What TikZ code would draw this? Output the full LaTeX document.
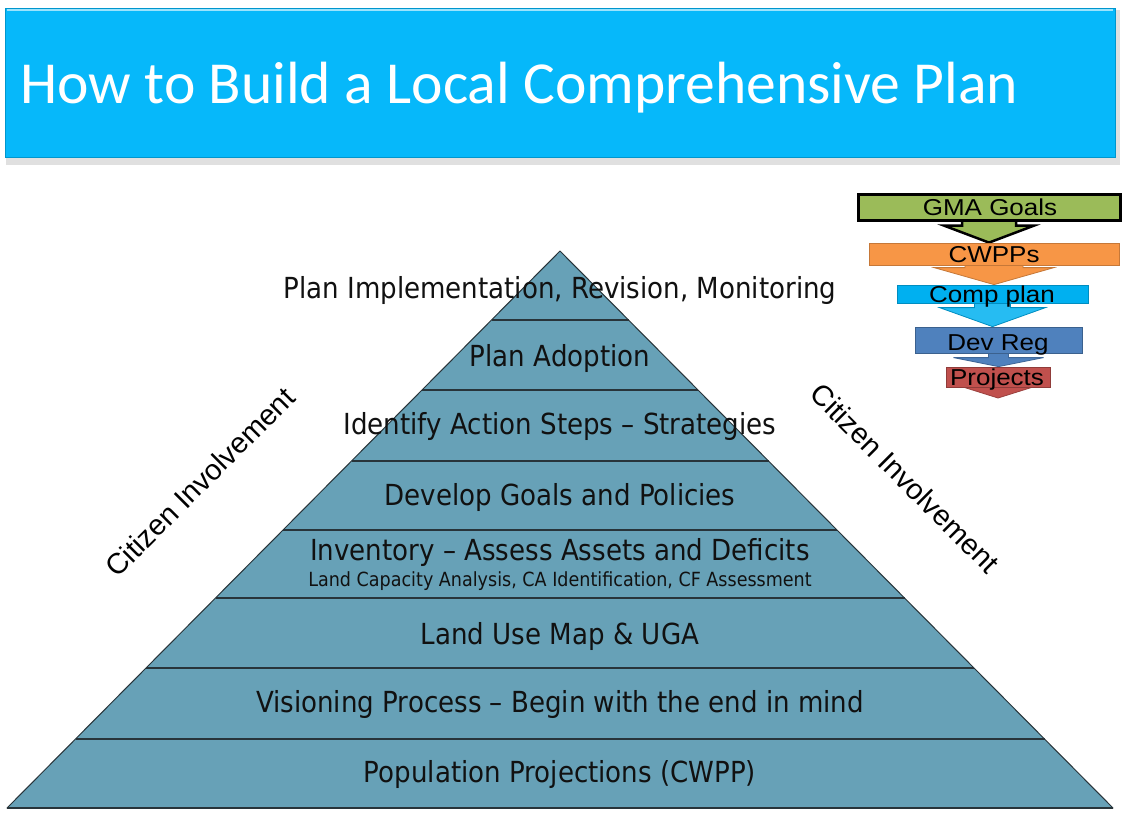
\documentclass[tikz,border=0pt]{standalone}
\usepackage{fontspec}
\setmainfont{Liberation Sans}
\newfontfamily\tahoma[FakeStretch=0.9]{DejaVu Sans}
\newfontfamily\calibri{Carlito}
\newfontfamily\arialf{Liberation Sans}
\usetikzlibrary{calc}
\definecolor{banner}{RGB}{6,184,250}
\definecolor{bannerdk}{RGB}{0,150,205}
\definecolor{pyr}{RGB}{103,161,183}
\definecolor{pyrline}{RGB}{40,52,58}
\definecolor{gmagreen}{RGB}{155,187,89}
\definecolor{cworange}{RGB}{247,150,70}
\definecolor{compblue}{RGB}{0,176,240}
\definecolor{devblue}{RGB}{79,129,189}
\definecolor{projred}{RGB}{192,80,77}
\definecolor{txt}{RGB}{17,17,17}
\newcommand{\flowarrow}[8]{%
  \filldraw[fill=#6, draw=#7, line width=#8, line join=miter]
    ($(#1.south)+(-#3,0)$) -- ($(#1.south |- #2)+(-#3,-#5)$) -- ($(#1.south |- #2)+(-#4,-#5)$)
    -- (#1.south |- #2) -- ($(#1.south |- #2)+(#4,-#5)$) -- ($(#1.south |- #2)+(#3,-#5)$)
    -- ($(#1.south)+(#3,0)$) -- cycle;}
\begin{document}
\begin{tikzpicture}[x=1pt,y=-1pt,
  pyrtext/.style={font=\tahoma\fontsize{29}{34}\selectfont, text=txt, inner sep=0pt, anchor=base},
  pyrsmall/.style={font=\tahoma\fontsize{19.5}{23}\selectfont, text=txt, inner sep=0pt, anchor=base},
  citizen/.style={font=\arialf\fontsize{29}{34}\selectfont, text=black, inner sep=0pt},
  flowbox/.style={rectangle, inner sep=0pt, line width=0.8pt},
  flowtext/.style={font=\arialf\fontsize{23}{27}\selectfont, text=black, inner sep=0pt, anchor=base},
  titletext/.style={font=\calibri\fontsize{59.6}{70}\selectfont, text=white, inner sep=0pt, anchor=base west}]
\useasboundingbox (0,0) rectangle (1123,820);
\fill[white] (0,0) rectangle (1123,820);

% title banner
\fill[black!25] (8,12) rectangle (1118,162);
\fill[black!12] (6,10) rectangle (1120,165);
\filldraw[fill=banner, draw=bannerdk, line width=1pt] (5,8) rectangle (1115,157);
\draw[white!60!banner, line width=2pt] (7,10) -- (1113,10);
\node[titletext] (title) at (20,103) {How to Build a Local Comprehensive Plan};

% pyramid
\coordinate (A) at (560,251);
\coordinate (BL) at (7,808);
\coordinate (BR) at (1113,808);
\filldraw[fill=pyr, draw=pyrline, line width=1pt, line join=round] (A) -- (BL) -- (BR) -- cycle;
\foreach \yy in {320,390,461,530,598,668,739}{
  \draw[pyrline, line width=1.6pt] ($(A)!{(\yy-251)/557}!(BL)$) -- ($(A)!{(\yy-251)/557}!(BR)$);
}
\draw[pyrline, line width=2pt] (BL) -- (BR);

\node[pyrtext] (l1) at (560,298) {Plan Implementation, Revision, Monitoring};
\node[pyrtext] (l2) at (560,366) {Plan Adoption};
\node[pyrtext] (l3) at (560,434) {Identify Action Steps – Strategies};
\node[pyrtext] (l4) at (560,505) {Develop Goals and Policies};
\node[pyrtext] (l5) at (560,560) {Inventory – Assess Assets and Deficits};
\node[pyrsmall] (l5b) at (560,586) {Land Capacity Analysis, CA Identification, CF Assessment};
\node[pyrtext] (l6) at (560,644) {Land Use Map \& UGA};
\node[pyrtext] (l7) at (560,712) {Visioning Process – Begin with the end in mind};
\node[pyrtext] (l8) at (560,782) {Population Projections (CWPP)};

% citizen involvement
\node[citizen, rotate=45] (cil) at (200,482) {Citizen Involvement};
\node[citizen, rotate=-45] (cir) at (905,478) {Citizen Involvement};

% flow chart boxes (positions only; drawn after arrows)
\path (989,207) node[flowbox, minimum width=262, minimum height=26] (gma) {};
\path (994,254) node[flowbox, minimum width=250, minimum height=22] (cwpp) {};
\path (992.5,294) node[flowbox, minimum width=191, minimum height=18] (comp) {};
\path (998.5,340) node[flowbox, minimum width=167, minimum height=26] (dev) {};
\path (998,377) node[flowbox, minimum width=104, minimum height=20] (proj) {};
\coordinate (pend) at (998,398);

% arrows
\flowarrow{gma}{cwpp.north}{27}{45}{17}{gmagreen}{black}{2.5pt}
\flowarrow{cwpp}{comp.north}{29}{60}{17}{cworange}{cworange!80!black}{0.8pt}
\flowarrow{comp}{dev.north}{18}{53}{19}{compblue!85!white}{compblue!80!black}{0.8pt}
\flowarrow{dev}{proj.north}{10}{45}{9}{devblue}{devblue!80!black}{0.8pt}
\flowarrow{proj}{pend}{20}{35}{11}{projred}{projred!80!black}{0.8pt}

% boxes on top
\node[flowbox, fill=gmagreen, draw=black, line width=3pt, minimum width=262, minimum height=26] at (gma) {};
\node[flowbox, fill=cworange, draw=cworange!80!black, minimum width=250, minimum height=22] at (cwpp) {};
\node[flowbox, fill=compblue, draw=compblue!80!black, minimum width=191, minimum height=18] at (comp) {};
\node[flowbox, fill=devblue, draw=devblue!75!black, minimum width=167, minimum height=26] at (dev) {};
\node[flowbox, fill=projred, draw=projred!75!black, minimum width=104, minimum height=20] at (proj) {};

\node[flowtext] (gmat) at (990,215) {\scalebox{1.13}[1]{GMA Goals}};
\node[flowtext] (cwppt) at (994,262) {\scalebox{1.13}[1]{CWPPs}};
\node[flowtext] (compt) at (992,302) {\scalebox{1.13}[1]{Comp plan}};
\node[flowtext] (devt) at (998,350) {\scalebox{1.13}[1]{Dev Reg}};
\node[flowtext] (projt) at (997,385) {\scalebox{1.13}[1]{Projects}};
\end{tikzpicture}
\end{document}
